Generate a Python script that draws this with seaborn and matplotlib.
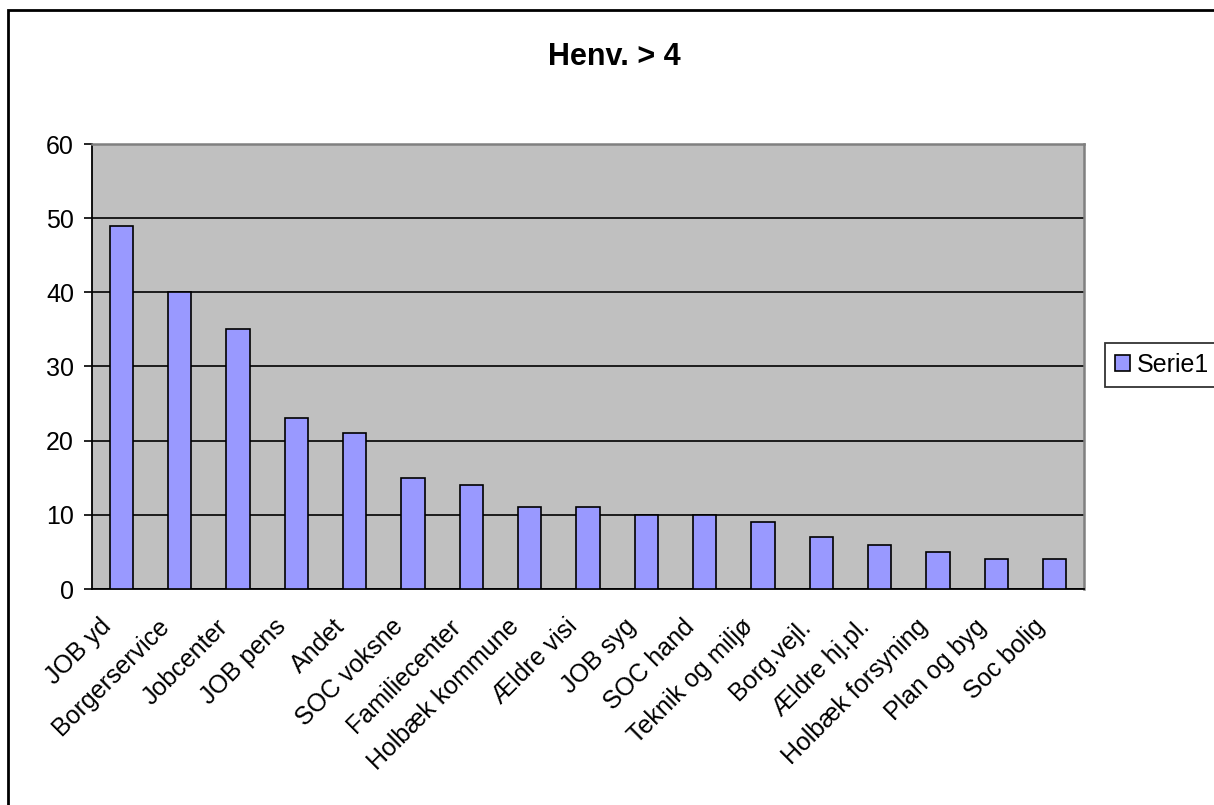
import matplotlib
matplotlib.use('Agg')
import matplotlib.pyplot as plt
import matplotlib.transforms as mtransforms
import seaborn as sns
import numpy as np
import pandas as pd
from matplotlib.patches import Patch, Rectangle

categories = ['JOB yd', 'Borgerservice', 'Jobcenter', 'JOB pens', 'Andet',
              'SOC voksne', 'Familiecenter', 'Holbæk kommune', 'Ældre visi',
              'JOB syg', 'SOC hand', 'Teknik og miljø', 'Borg.vejl.',
              'Ældre hj.pl.', 'Holbæk forsyning', 'Plan og byg', 'Soc bolig']
values = [49, 40, 35, 23, 21, 15, 14, 11, 11, 10, 10, 9, 7, 6, 5, 4, 4]
series_name = 'Serie1'
title = 'Henv. > 4'

df = pd.DataFrame({'cat': categories, 'val': values})

sns.set_style('white')
plt.rcParams['font.family'] = ['Liberation Sans', 'DejaVu Sans']
plt.rcParams['text.color'] = 'black'
plt.rcParams['xtick.color'] = 'black'
plt.rcParams['ytick.color'] = 'black'
plt.rcParams['xtick.labelcolor'] = 'black'
plt.rcParams['ytick.labelcolor'] = 'black'

fig = plt.figure(figsize=(12.14, 8.05), dpi=100)
ax = fig.add_axes([92 / 1214, 1 - 589 / 805, (1084 - 92) / 1214, (589 - 144) / 805])
ax.set_facecolor('#C0C0C0')

sns.barplot(data=df, x='cat', y='val', color='#9999FF', width=0.4,
            edgecolor='black', linewidth=1.2, saturation=1, ax=ax, zorder=3)

ax.set_ylim(0, 60)
ax.set_xlim(-0.5, len(categories) - 0.5)
ax.set_yticks(range(0, 61, 10))
ax.yaxis.grid(True, color='black', linewidth=1.2, zorder=1)
ax.set_axisbelow(True)
ax.set_xlabel('')
ax.set_ylabel('')

# category labels: drawn as rotated texts, end of text under each category
ax.set_xticks([])
ax.set_xticks(np.arange(-0.5, len(categories)), minor=True)
ax.tick_params(axis='x', which='minor', length=6, width=1.2, color='black',
               direction='out', labelbottom=False)
offset = mtransforms.ScaledTranslation(-14 / 100, -34 / 100, fig.dpi_scale_trans)
for i, cat in enumerate(categories):
    ax.text(i, 0, cat, transform=ax.get_xaxis_transform() + offset,
            rotation=45, rotation_mode='anchor', ha='right', va='center',
            fontsize=18, color='black')

ax.tick_params(axis='y', length=6, width=1.2, color='black', direction='out',
               labelsize=18, labelcolor='black', pad=7, left=True)

for s in ['left', 'bottom']:
    ax.spines[s].set_color('black')
    ax.spines[s].set_linewidth(1.3)
for s in ['top', 'right']:
    ax.spines[s].set_color('#808080')
    ax.spines[s].set_linewidth(1.8)

fig.text(614 / 1214, 1 - 57 / 805, title, ha='center', va='center',
         fontsize=22, fontweight='bold', color='black')

handle = Patch(facecolor='#9999FF', edgecolor='black', linewidth=1.2, label=series_name)
leg = fig.legend(handles=[handle], loc='center left',
                 bbox_to_anchor=(1105 / 1214, 1 - 365 / 805), fontsize=18,
                 frameon=True, fancybox=False, edgecolor='black',
                 handlelength=0.6, handleheight=0.6, handletextpad=0.28,
                 borderpad=0.4, borderaxespad=0)
leg.get_frame().set_linewidth(1.3)

fig.patches.append(Rectangle((8 / 1214, -0.1), 1.2, 1 - 10 / 805 + 0.1,
                             transform=fig.transFigure, fill=False,
                             edgecolor='black', linewidth=2))

fig.savefig('out.png', dpi=100)
